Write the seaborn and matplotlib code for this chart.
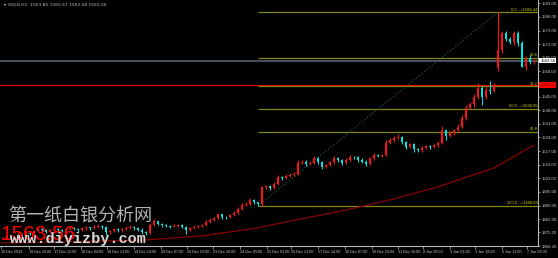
import matplotlib
matplotlib.use("Agg")
import matplotlib.pyplot as plt
import seaborn as sns
import numpy as np
import pandas as pd

# ---------------- data ----------------
closes = [1472.5,1473.0,1472.6,1473.4,1474.0,1473.5,1475.0,1474.6,1476.0,1476.8,
          1476.2,1475.6,1476.4,1477.0,1476.5,1476.0,1476.8,1477.4,1477.0,1476.4,
          1477.2,1477.8,1477.2,1478.0,1478.6,1477.8,1475.2,1476.0,1476.8,1476.2,
          1477.0,1477.6,1478.2,1477.4,1476.6,1475.4,1475.0,1479.0,1480.8,1479.6,
          1478.8,1478.6,1478.2,1478.6,1478.9,1478.0,1476.4,1477.2,1477.8,1478.4,
          1479.0,1480.6,1481.8,1482.6,1484.4,1483.2,1483.0,1484.0,1485.4,1487.2,
          1489.4,1490.0,1491.8,1490.6,1489.6,1498.4,1498.8,1498.0,1500.2,1503.6,
          1503.0,1504.2,1504.8,1505.4,1511.0,1511.6,1510.4,1511.0,1513.4,1511.2,
          1508.8,1509.8,1511.2,1513.6,1512.2,1510.8,1512.6,1514.0,1513.8,1512.6,
          1511.6,1510.6,1513.2,1514.8,1514.6,1515.0,1521.2,1522.6,1523.6,1524.2,
          1521.6,1519.2,1520.4,1518.0,1517.4,1518.6,1519.6,1519.2,1520.0,1521.4,
          1527.8,1525.0,1526.2,1527.6,1529.6,1534.0,1539.4,1541.0,1544.6,1549.4,
          1545.0,1548.4,1548.0,1550.8,1569.0,1577.6,1574.8,1573.0,1577.8,1572.4,
          1560.4,1565.0,1562.8,1563.56]
first_open = 1472.2
gap_opens = {124: 1559.8}

upper_wicks = [0.5,0.8,0.4,0.6,0.7,0.5,0.9,0.4,0.6,0.8,
               0.4,0.5,0.7,0.6,0.4,0.5,0.8,0.6,0.4,0.5,
               0.7,0.6,0.4,0.8,1.0,0.5,0.6,0.4,0.7,0.5,
               0.6,0.8,0.9,0.4,0.5,0.6,0.4,0.8,1.2,0.5,
               0.4,0.6,0.5,0.7,0.6,0.4,0.5,0.6,0.7,0.5,
               0.6,0.8,0.7,0.6,1.0,0.5,0.6,0.8,0.7,0.9,
               0.8,0.6,0.9,0.5,0.4,0.8,1.0,0.6,0.7,0.9,
               0.6,0.8,0.7,0.9,1.2,1.0,0.6,0.8,1.1,0.5,
               0.6,0.7,0.8,1.0,0.6,0.5,0.9,0.8,0.6,0.5,
               0.6,0.7,0.8,1.0,0.7,0.6,1.4,1.2,1.0,1.6,
               0.8,0.7,0.9,0.6,0.5,0.8,0.7,0.6,0.9,1.0,
               2.0,0.8,1.0,0.9,1.2,1.5,1.4,1.2,1.6,2.4,
               1.2,2.0,4.6,1.0,19.44,1.2,1.4,1.0,1.2,1.0,
               1.2,1.0,1.4,0.6]
lower_wicks = [0.6,0.5,0.8,0.4,0.6,0.7,0.5,0.8,0.4,0.6,
               0.7,0.9,0.5,0.4,0.6,0.8,0.5,0.6,0.7,0.9,
               0.5,0.6,0.8,0.5,0.4,0.9,1.6,0.6,0.5,0.7,
               0.6,0.4,0.5,0.8,0.7,0.9,1.2,0.5,0.6,0.8,
               0.6,0.5,0.7,0.4,0.6,0.8,1.8,0.6,0.5,0.4,
               0.6,0.5,0.7,0.6,0.5,0.9,0.7,0.6,0.5,0.8,
               0.6,0.7,0.5,0.9,0.74,0.6,0.8,1.0,0.7,0.6,
               0.9,0.6,0.7,0.8,0.6,0.7,1.0,0.8,0.6,0.9,
               1.2,0.7,0.6,0.8,0.9,1.0,0.6,0.7,0.8,1.0,
               0.9,1.2,0.7,0.6,0.8,0.7,0.6,0.8,0.7,0.6,
               1.0,1.2,0.8,1.5,1.0,0.7,0.6,1.2,0.8,0.7,
               0.6,2.3,1.0,0.8,0.7,0.9,0.8,1.0,1.2,0.9,
               4.3,1.2,1.4,0.8,1.6,1.4,1.2,1.0,1.4,1.2,
               0.4,1.6,1.2,0.8]

ma_idx = [0, 15, 36, 50, 64, 71, 86, 97, 109, 117, 123, 133]
ma_vals = [1469.8, 1470.3, 1471.3, 1473.4, 1477.5, 1480.6, 1486.7, 1491.9,
           1498.6, 1504.2, 1508.3, 1520.1]

fib_low_idx, fib_high_idx = 64, 124
fib_low, fib_high = 1488.86, 1588.44
fib_ratios = [0.0, 23.6, 38.2, 50.0, 61.8, 100.0]
fib_show_price = [True, False, False, True, False, True]

bid_price = 1563.56
alert_price = 1551.00

ytick_vals = [1593.00, 1586.00, 1579.00, 1572.00, 1565.00, 1558.00, 1545.00,
              1538.00, 1531.00, 1524.00, 1517.00, 1510.00, 1503.00, 1496.00,
              1489.00, 1482.00, 1475.20, 1468.20]

xtick_labels = ["16 Dec 2019", "16 Dec 19:00", "17 Dec 12:00", "18 Dec 04:00",
                "18 Dec 21:00", "19 Dec 14:00", "20 Dec 07:00", "20 Dec 23:00",
                "23 Dec 16:00", "24 Dec 09:00", "25 Dec 01:00", "26 Dec 21:00",
                "27 Dec 14:00", "30 Dec 07:00", "30 Dec 23:00", "31 Dec 16:00",
                "2 Jan 09:00", "3 Jan 01:00", "3 Jan 18:00", "6 Jan 11:00",
                "7 Jan 03:00"]
xtick_idx = [-0.25, 6.75, 13.0, 19.75, 26.25, 33.0, 39.75, 46.25, 52.75, 59.5,
             66.25, 72.25, 79.0, 85.75, 92.5, 99.0, 105.25, 112.0, 118.25,
             125.0, 131.25]

header = "\u25be GOLD,H1  1563.85 1565.67 1562.68 1563.56"

# ---------------- style ----------------
sns.set_theme(style="dark")
plt.rcParams['font.family'] = ['Liberation Sans', 'DejaVu Sans']
plt.rcParams['axes.facecolor'] = 'black'
plt.rcParams['figure.facecolor'] = 'black'

fig = plt.figure(figsize=(5.58, 2.58), dpi=100, facecolor='black')
ax = fig.add_axes([0, 12 / 258, 538 / 558, 246 / 258])
ax.set_facecolor('black')
ax.grid(False)

n = len(closes)
idx = np.arange(n)
opens = [first_open] + closes[:-1]
for k, v in gap_opens.items():
    opens[k] = v
opens = np.array(opens)
cl = np.array(closes)
top = np.maximum(opens, cl)
bot = np.minimum(opens, cl)
highs = top + np.array(upper_wicks)
lows = bot - np.array(lower_wicks)
cols = np.where(cl >= opens, '#ff1010', '#00e5e5')

df = pd.DataFrame({"i": idx, "open": opens, "close": cl, "high": highs, "low": lows})

# reference lines
ax.axhline(bid_price, color='#46505a', lw=1.5, zorder=1)
ax.axhline(alert_price, color='#e00000', lw=0.9, zorder=1)

# fib levels
rng = fib_high - fib_low
for r, show in zip(fib_ratios, fib_show_price):
    lvl = fib_high - rng * r / 100.0
    ax.hlines(lvl, fib_low_idx, n + 0.5, color='#86860e', lw=0.9, zorder=1)
    txt = f"{r:.1f}" + (f"  ->{lvl:.2f}" if show else "")
    ax.text(n - 0.1, lvl + 0.3, txt, color='#c8c818', fontsize=3.0,
            ha='right', va='bottom', zorder=5)
ax.plot([fib_low_idx, fib_high_idx], [fib_low, fib_high], color='#1d6a4e',
        lw=0.8, ls=(0, (1, 2)), zorder=1)

# moving average
sns.lineplot(x=ma_idx, y=ma_vals, ax=ax, color='#8a0000', lw=0.9, zorder=2)

# candles
ax.vlines(df["i"], df["low"], df["high"], colors=cols, lw=0.75, zorder=3)
ax.bar(df["i"], np.maximum(top - bot, 0.25), bottom=bot, width=0.55,
       color=cols, linewidth=0, zorder=4)

ax.set_xlim(-0.5, 134.0)
ax.set_ylim(1468.2, 1594.7)

# axes styling
for s in ['top', 'left']:
    ax.spines[s].set_visible(False)
for s in ['right', 'bottom']:
    ax.spines[s].set_color('#b8b8b8')
    ax.spines[s].set_linewidth(0.8)

ax.yaxis.tick_right()
ax.set_yticks(ytick_vals)
ax.set_yticklabels([f"{v:.2f}" for v in ytick_vals])
ax.tick_params(axis='y', colors='#b8b8b8', labelcolor='#c8c8c8', labelsize=3.1,
               length=1.5, width=0.5, pad=1.0, right=True, left=False)
ax.set_xticks(xtick_idx)
ax.set_xticklabels(xtick_labels)
for lab in ax.get_xticklabels():
    lab.set_ha('left')
ax.tick_params(axis='x', colors='#b8b8b8', labelcolor='#c8c8c8', labelsize=2.7,
               length=2, width=0.5, pad=1.0, bottom=True)
ax.set_xlabel("")
ax.set_ylabel("")

# price tags
tr = ax.get_yaxis_transform()
ax.text(1.004, bid_price, f"{bid_price:.2f}", transform=tr, fontsize=3.1,
        color='black', ha='left', va='center', clip_on=False,
        bbox=dict(boxstyle='square,pad=0.2', fc='white', ec='none'), zorder=10)
ax.text(1.004, alert_price, f"{alert_price:.2f}", transform=tr, fontsize=3.1,
        color='#7a0000', ha='left', va='center', clip_on=False,
        bbox=dict(boxstyle='square,pad=0.2', fc='#ff0000', ec='none'), zorder=10)

# header & watermarks
fig.text(4 / 558, 1 - 4.5 / 258, header, fontsize=3.2, color='#c0c0c0',
         ha='left', va='center', family=['DejaVu Sans'])
fig.text(0 / 558, 1 - 235 / 258, "1563.56", fontsize=15, color='#ff0000',
         family='Liberation Sans', ha='left', va='center')
fig.text(8 / 558, 1 - 217 / 258, "第一纸白银分析网", fontsize=13, color='#b4b4b4',
         family=['Noto Sans CJK SC', 'DejaVu Sans'], ha='left', va='center')
fig.text(10 / 558, 1 - 239.5 / 258, "www.diyizby.com", fontsize=11,
         family='Liberation Mono', weight='bold', color='#d6d6d6',
         ha='left', va='center')

fig.savefig("out.png", dpi=100, facecolor='black')
